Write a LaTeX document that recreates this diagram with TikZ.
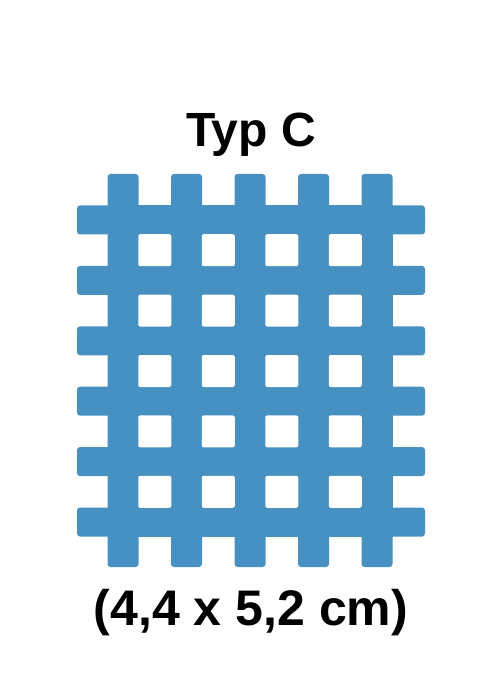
\documentclass[tikz,border=0pt]{standalone}
\usepackage{fontspec}
\setmainfont{Liberation Sans}

\definecolor{tapeblue}{RGB}{70,145,194}

\tikzset{
  tape/.style={fill=tapeblue, rounded corners=3pt},
  hole/.style={fill=white, rounded corners=2pt},
  label/.style={font=\bfseries\fontsize{48}{52}\selectfont, anchor=base, inner sep=0pt},
}

\begin{document}
\begin{tikzpicture}[x=1pt, y=-1pt]
  \useasboundingbox (0,0) rectangle (500,700);

  \node[label] (title) at (251,147) {Typ C};

  % core of the grid
  \fill[tapeblue] (107.5,205.5) rectangle (392.5,536.5);

  % vertical strips
  \foreach \x in {123,186.5,250,313.5,377}
    \fill[tape] (\x-15.5,174) rectangle (\x+15.5,567);

  % horizontal strips
  \foreach \y in {220,280.4,340.8,401.2,461.6,522}
    \fill[tape] (77,\y-14.5) rectangle (425,\y+14.5);

  % holes
  \foreach \x in {154.75,218.25,281.75,345.25}
    \foreach \y in {250.2,310.6,371,431.4,491.8}
      \fill[hole] (\x-16.5,\y-16) rectangle (\x+16.5,\y+16);

  \node[label, font=\bfseries\fontsize{50}{54}\selectfont] (size) at (251,625) {(4,4 x 5,2 cm)};
\end{tikzpicture}
\end{document}
